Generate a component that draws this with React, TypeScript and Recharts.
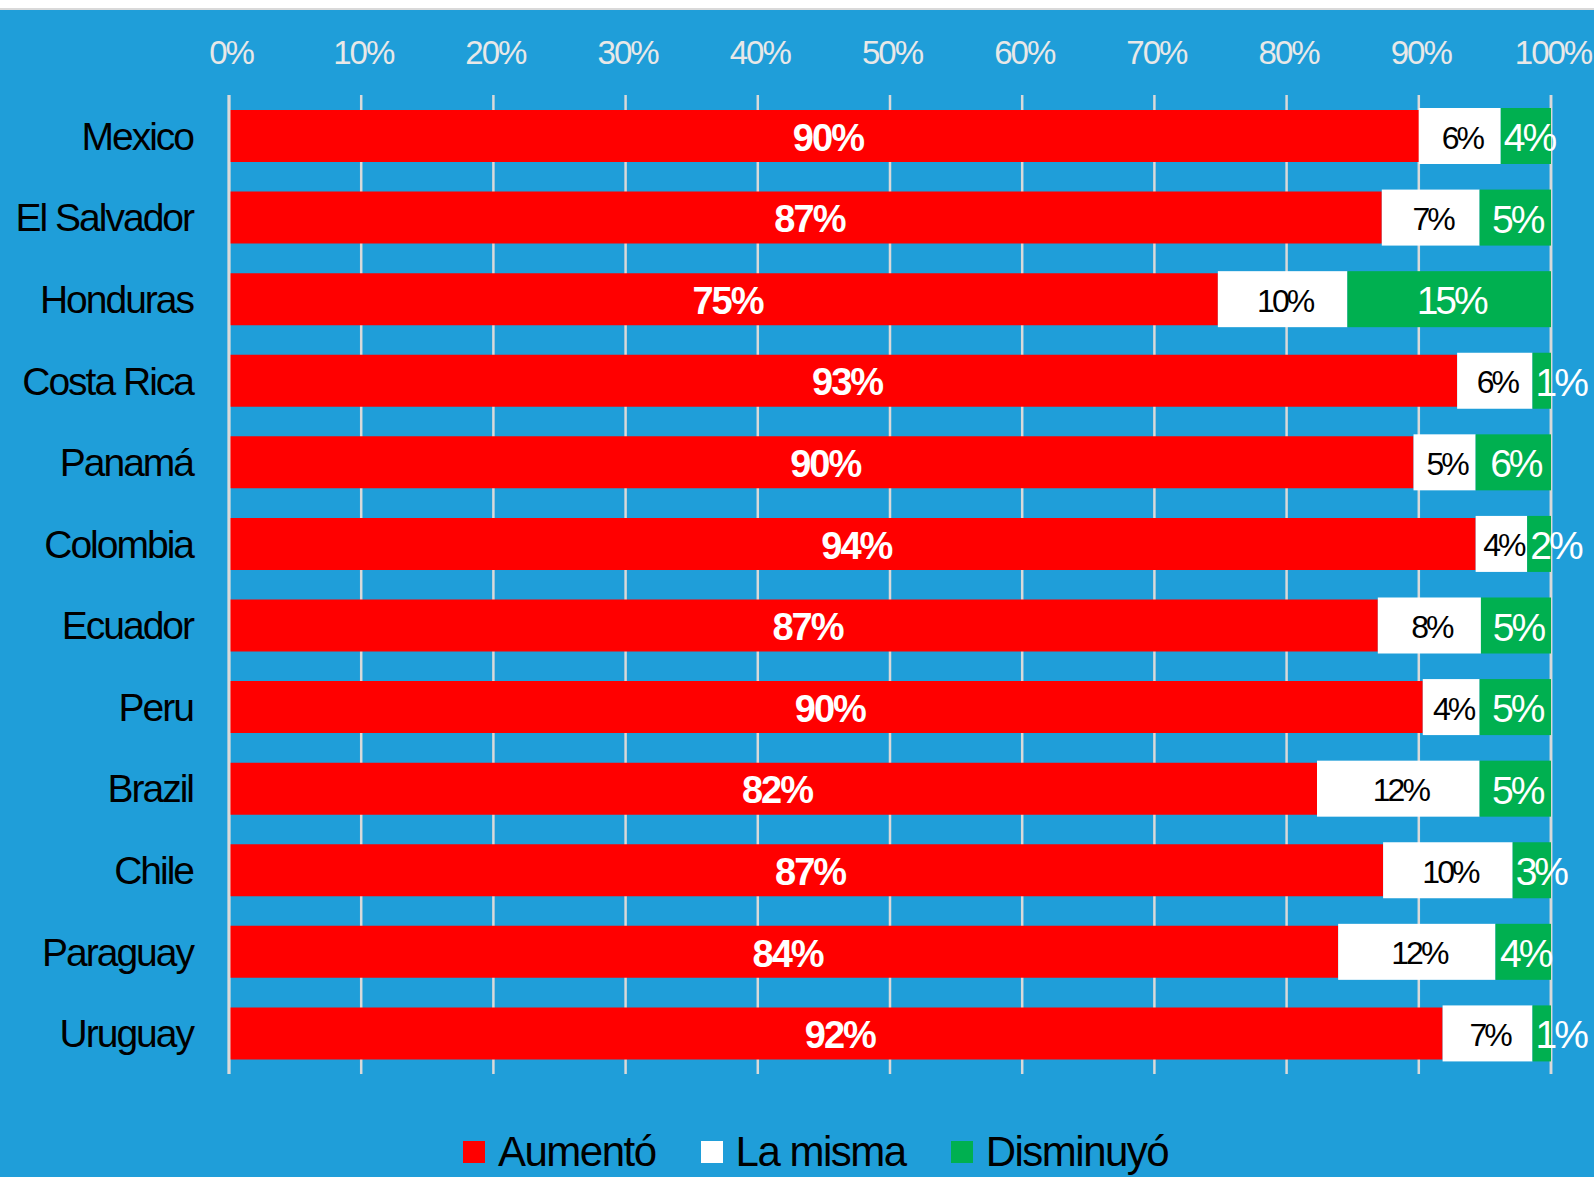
import { BarChart, Bar, XAxis, YAxis, CartesianGrid, LabelList } from 'recharts';

const countries = ['Mexico', 'El Salvador', 'Honduras', 'Costa Rica', 'Panamá', 'Colombia', 'Ecuador', 'Peru', 'Brazil', 'Chile', 'Paraguay', 'Uruguay'];
const aumento = [90.0, 87.2, 74.8, 92.9, 89.6, 94.3, 86.9, 90.3, 82.3, 87.3, 83.9, 91.8];
const laMisma = [6.2, 7.4, 9.8, 5.7, 4.7, 3.9, 7.8, 4.3, 12.3, 9.8, 11.9, 6.8];
const disminuyo = [3.8, 5.4, 15.4, 1.4, 5.7, 1.8, 5.3, 5.4, 5.4, 2.9, 4.2, 1.4];
const xTicks = [0, 10, 20, 30, 40, 50, 60, 70, 80, 90, 100];

const series = [
  { key: 'aumento', name: 'Aumentó', color: '#ff0000' },
  { key: 'laMisma', name: 'La misma', color: '#ffffff' },
  { key: 'disminuyo', name: 'Disminuyó', color: '#00b050' },
];

const data = countries.map((c, i) => ({
  country: c,
  aumento: aumento[i],
  laMisma: laMisma[i],
  disminuyo: disminuyo[i],
}));

const FONT = '"Liberation Sans", Arial, sans-serif';
const BLUE = '#1f9ed9';
const GRID = '#d9d9d9';

const textWidth = (s: string, fs: number, spacing: number, bold: boolean) => {
  let w = 0;
  for (const ch of s) w += ch === '%' ? 0.889 : 0.556;
  return w * fs + spacing * s.length + (bold ? 2 : 0);
};

const makeLabel = (fill: string, fs: number, weight: number, spacing: number, dx = 0) => (props: any) => {
  const { x, y, width, height, value } = props;
  const txt = `${Math.round(value)}%`;
  const w = textWidth(txt, fs, spacing, weight > 500);
  const fits = w <= width - 2;
  return (
    <text
      x={fits ? x + width / 2 + dx : x + 3}
      y={y + height / 2 + fs * 0.36 + 1}
      textAnchor={fits ? 'middle' : 'start'}
      fill={fill}
      fontSize={fs}
      fontWeight={weight}
      fontFamily={FONT}
      letterSpacing={spacing}
    >
      {txt}
    </text>
  );
};

// white and green segments sit a touch taller than the red one
const TallBar = (props: any) => {
  const { x, y, width, height, fill } = props;
  return <rect x={x} y={y - 2} width={width} height={height + 4} fill={fill} />;
};

const XTick = ({ x, y, payload }: any) => (
  <text x={x + 2} y={y} textAnchor="middle" fill="#e8e8e8" fontSize={33} fontFamily={FONT} letterSpacing={-2}>
    {payload.value}%
  </text>
);

const YTick = ({ x, y, payload }: any) => (
  <text x={x} y={y + 14} textAnchor="end" fill="#000" fontSize={39} fontFamily={FONT} letterSpacing={-2}>
    {payload.value}
  </text>
);

export default function App() {
  return (
    <div style={{ position: 'absolute', left: 0, top: 0, width: 1594, height: 1177, background: '#fff', overflow: 'hidden' }}>
      <div style={{ position: 'absolute', left: 0, top: 8, width: 1594, height: 2, background: GRID }} />
      <div style={{ position: 'absolute', left: 0, top: 10, width: 1594, height: 1167, background: BLUE }} />
      <div style={{ position: 'absolute', left: 0, top: 0 }}>
        <BarChart
          width={1594}
          height={1177}
          data={data}
          layout="vertical"
          margin={{ top: 0, right: 43, bottom: 103, left: 0 }}
        >
          <CartesianGrid horizontal={false} vertical stroke={GRID} strokeWidth={2.5} />
          <XAxis
            type="number"
            orientation="top"
            domain={[0, 100]}
            ticks={xTicks}
            height={95}
            axisLine={false}
            tickLine={false}
            tickSize={0}
            tickMargin={31}
            tick={<XTick />}
            interval={0}
          />
          <YAxis
            type="category"
            dataKey="country"
            width={229}
            axisLine={{ stroke: GRID, strokeWidth: 3 }}
            tickLine={false}
            tickSize={0}
            tickMargin={36}
            tick={<YTick />}
            interval={0}
          />
          <Bar dataKey="aumento" name="Aumentó" stackId="a" fill="#ff0000" barSize={52} isAnimationActive={false}>
            <LabelList dataKey="aumento" content={makeLabel('#ffffff', 38, 700, -2, 4)} />
          </Bar>
          <Bar dataKey="laMisma" name="La misma" stackId="a" fill="#ffffff" barSize={52} shape={<TallBar />} isAnimationActive={false}>
            <LabelList dataKey="laMisma" content={makeLabel('#000000', 32, 400, -3, 2)} />
          </Bar>
          <Bar dataKey="disminuyo" name="Disminuyó" stackId="a" fill="#00b050" barSize={52} shape={<TallBar />} isAnimationActive={false}>
            <LabelList dataKey="disminuyo" content={makeLabel('#ffffff', 39, 400, -3, 2)} />
          </Bar>
        </BarChart>
      </div>
      <div
        style={{
          position: 'absolute',
          left: 463,
          top: 1128,
          display: 'flex',
          alignItems: 'center',
          fontFamily: FONT,
          fontSize: 42,
          letterSpacing: -1.5,
          lineHeight: '47px',
          color: '#000',
          whiteSpace: 'nowrap',
        }}
      >
        {series.map((s) => (
          <div key={s.key} style={{ display: 'flex', alignItems: 'center', marginRight: 45 }}>
            <div style={{ width: 22, height: 22, background: s.color, marginRight: 13 }} />
            <span>{s.name}</span>
          </div>
        ))}
      </div>
    </div>
  );
}
